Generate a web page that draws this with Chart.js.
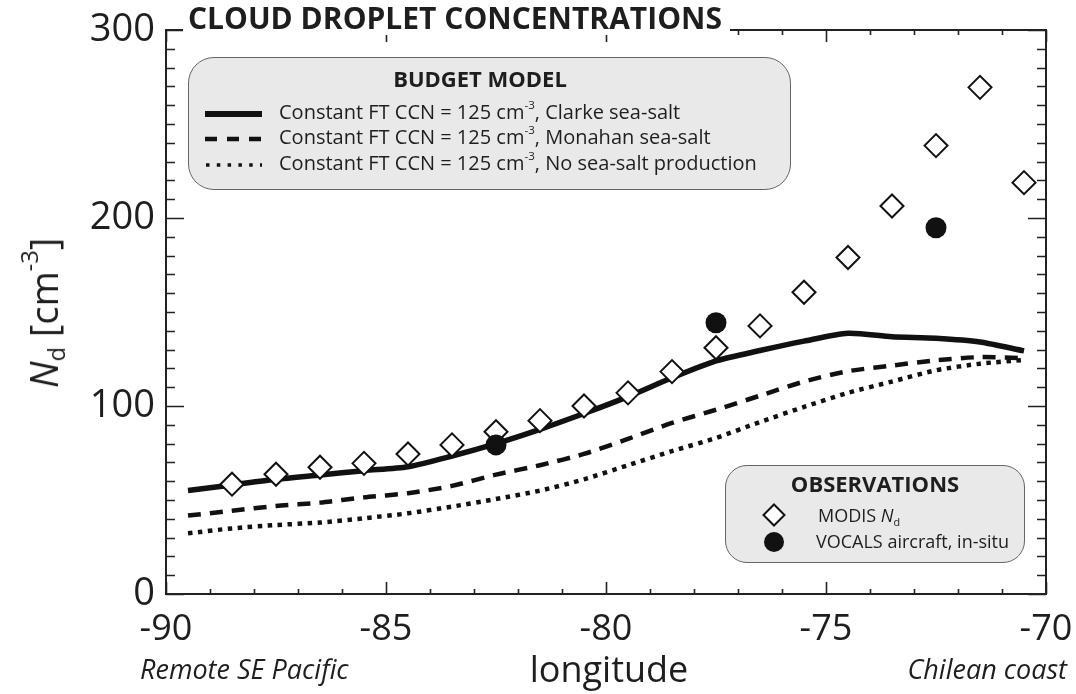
<!DOCTYPE html>
<html>
<head>
<meta charset="utf-8">
<script src="https://cdn.jsdelivr.net/npm/chart.js@4.4.1/dist/chart.umd.min.js"></script>
<style>
	body { margin: 0; background: #fff; font-family: "Open Sans", sans-serif; color: #1e1e1e; }
	#wrap { position: relative; width: 1076px; height: 694px; overflow: hidden; }
	#nd-chart { position: absolute; left: 0; top: 0; }
	.lbl { position: absolute; white-space: nowrap; }
	.box { position: absolute; box-sizing: border-box; background: #e9e9e9; border: 1.5px solid #666; }
	sup, sub { font-size: 0.6em; line-height: 0; vertical-align: baseline; position: relative; }
	.box-sup { font-size: 0.58em; top: -0.85em; }
</style>
</head>
<body>
<div id="wrap">
	<canvas id="nd-chart" width="1076" height="694"></canvas>

	<!-- title sits over the top frame line -->
	<div class="lbl" style="left:183px;top:3px;height:32px;line-height:30px;padding:0 8px 0 5px;background:#fff;font-weight:700;font-size:30px;">CLOUD DROPLET CONCENTRATIONS</div>

	<div class="lbl" style="left:43px;top:313px;font-size:38px;line-height:38px;transform:translate(-50%,-50%) rotate(-90deg);"><i>N</i><sub style="font-size:0.62em;top:0.3em;">d</sub> [cm<sup style="font-size:0.62em;top:-0.85em;">-3</sup>]</div>

	<div class="lbl" style="left:609px;top:651px;font-size:36px;line-height:36px;transform:translateX(-50%);">longitude</div>
	<div class="lbl" style="left:140px;top:655px;font-size:27px;line-height:27px;font-style:italic;">Remote SE Pacific</div>
	<div class="lbl" style="right:9px;top:655px;font-size:27px;line-height:27px;font-style:italic;">Chilean coast</div>

	<!-- budget model legend -->
	<div class="box" style="left:188px;top:57px;width:603px;height:133px;border-radius:26px;"></div>
	<div class="lbl" style="left:480px;top:67px;font-weight:700;font-size:22px;line-height:22px;transform:translateX(-50%);">BUDGET MODEL</div>
	<svg class="lbl" style="left:205px;top:108px" width="57" height="12"><line x1="0" y1="6" x2="57" y2="6" stroke="#111" stroke-width="6"/></svg>
	<svg class="lbl" style="left:205px;top:133px" width="57" height="12"><line x1="0" y1="6" x2="57" y2="6" stroke="#111" stroke-width="4.5" stroke-dasharray="12 10"/></svg>
	<svg class="lbl" style="left:205px;top:159px" width="57" height="12"><line x1="1" y1="6" x2="57" y2="6" stroke="#111" stroke-width="3.5" stroke-dasharray="3.5 7.3"/></svg>
	<div class="lbl" style="left:279px;top:102px;font-size:20px;line-height:20px;">Constant FT CCN = 125 cm<sup class="box-sup">-3</sup>, Clarke sea-salt</div>
	<div class="lbl" style="left:279px;top:127px;font-size:20px;line-height:20px;">Constant FT CCN = 125 cm<sup class="box-sup">-3</sup>, Monahan sea-salt</div>
	<div class="lbl" style="left:279px;top:153px;font-size:20px;line-height:20px;">Constant FT CCN = 125 cm<sup class="box-sup">-3</sup>, No sea-salt production</div>

	<!-- observations legend -->
	<div class="box" style="left:725px;top:465px;width:300px;height:98px;border-radius:22px;"></div>
	<div class="lbl" style="left:875px;top:472px;font-weight:700;font-size:22px;line-height:22px;transform:translateX(-50%);">OBSERVATIONS</div>
	<svg class="lbl" style="left:762px;top:503px" width="24" height="24"><polygon points="12,1.5 22.5,12 12,22.5 1.5,12" fill="#fff" stroke="#111" stroke-width="2"/></svg>
	<svg class="lbl" style="left:763px;top:531px" width="22" height="22"><circle cx="11" cy="11" r="10" fill="#111"/></svg>
	<div class="lbl" style="left:818px;top:506px;font-size:18px;line-height:18px;">MODIS <i>N</i><sub style="top:0.4em;">d</sub></div>
	<div class="lbl" style="left:816px;top:532px;font-size:18px;line-height:18px;">VOCALS aircraft, in-situ</div>
</div>

<script>
	// model longitudes (half degree grid)
	var modelLon = [-89.5, -88.5, -87.5, -86.5, -85.5, -84.5, -83.5, -82.5, -81.5, -80.5,
		-79.5, -78.5, -77.5, -76.5, -75.5, -74.5, -73.5, -72.5, -71.5, -70.5];

	// budget model Nd, cm-3
	var clarkeNd = [55, 58, 61, 63.3, 65.6, 67.7, 73.4, 80, 87.6, 96,
		105, 115, 124, 129.5, 134.5, 138.7, 136.8, 136, 134, 129.3];
	var monahanNd = [41.7, 44.3, 46.8, 48.6, 51.4, 53.6, 57.5, 63.5, 68.5, 74.5,
		82.5, 91, 98, 105.5, 113, 118.5, 121.5, 124.3, 126, 125.5];
	var noSaltNd = [32.3, 34.9, 36.7, 38, 40.3, 42.9, 46.5, 50.5, 55, 61,
		68.5, 76, 83, 91.5, 99.5, 107, 113, 119, 122.5, 124.5];

	// observations
	var modisLon = [-88.5, -87.5, -86.5, -85.5, -84.5, -83.5, -82.5, -81.5, -80.5, -79.5,
		-78.5, -77.5, -76.5, -75.5, -74.5, -73.5, -72.5, -71.5, -70.5];
	var modisNd = [58.4, 63.7, 67.4, 69.5, 74.5, 79.3, 86.3, 92.2, 100, 107,
		118.3, 131, 142.6, 160.5, 179, 206.4, 238.5, 269.5, 218.8];
	var vocalsLon = [-82.5, -77.5, -72.5];
	var vocalsNd = [79.3, 144.3, 194.8];

	// axis ticks
	var xTicks = [-90, -85, -80, -75, -70];
	var yTicks = [0, 100, 200, 300];

	var toPoints = function(xs, ys) {
		var pts = [];
		for (var i=0; i<xs.length; i++) {
			pts.push({x: xs[i], y: ys[i]});
		}
		return pts;
	};

	var ink = '#111';

	// Frame with inward ticks on all four sides (minor every 1 deg / 10 cm-3)
	var frameTicks = {
		id: 'frameTicks',
		beforeDatasetsDraw: function(chart) {
			var ctx = chart.ctx;
			var a = chart.chartArea;
			var xs = chart.scales.x, ys = chart.scales.y;
			ctx.save();
			ctx.strokeStyle = '#222';
			ctx.lineWidth = 2;
			ctx.strokeRect(a.left, a.top, a.right - a.left, a.bottom - a.top);
			ctx.lineWidth = 1.6;
			ctx.beginPath();
			for (var v=ys.min; v<=ys.max; v+=10) {
				var py = Math.round(ys.getPixelForValue(v)) + 0.5;
				var len = (v % 100 == 0) ? 18 : 9;
				ctx.moveTo(a.left, py); ctx.lineTo(a.left + len, py);
				ctx.moveTo(a.right, py); ctx.lineTo(a.right - len, py);
			}
			for (var lon=xs.min; lon<=xs.max; lon+=1) {
				var px = Math.round(xs.getPixelForValue(lon)) + 0.5;
				var l2 = (lon % 5 == 0) ? 12 : 5;
				ctx.moveTo(px, a.bottom); ctx.lineTo(px, a.bottom - l2);
				ctx.moveTo(px, a.top); ctx.lineTo(px, a.top + l2);
			}
			ctx.stroke();
			ctx.restore();
		}
	};

	var ctx = document.getElementById('nd-chart').getContext('2d');
	var chart = new Chart(ctx, {
		type: 'line',
		data: {
			datasets: [
				{
					label: 'VOCALS aircraft, in-situ',
					type: 'scatter',
					data: toPoints(vocalsLon, vocalsNd),
					pointStyle: 'circle',
					pointRadius: 10.5,
					backgroundColor: ink,
					borderColor: ink,
					borderWidth: 0
				},
				{
					label: 'MODIS Nd',
					type: 'scatter',
					data: toPoints(modisLon, modisNd),
					pointStyle: 'rectRot',
					pointRadius: 11.5,
					backgroundColor: '#fff',
					borderColor: ink,
					borderWidth: 2
				},
				{
					label: 'Clarke sea-salt',
					data: toPoints(modelLon, clarkeNd),
					borderColor: ink,
					borderWidth: 5.5,
					pointRadius: 0,
					tension: 0.25
				},
				{
					label: 'Monahan sea-salt',
					data: toPoints(modelLon, monahanNd),
					borderColor: ink,
					borderWidth: 4.5,
					borderDash: [13, 9],
					pointRadius: 0,
					tension: 0.25
				},
				{
					label: 'No sea-salt production',
					data: toPoints(modelLon, noSaltNd),
					borderColor: ink,
					borderWidth: 4.5,
					borderDash: [4.5, 5.5],
					pointRadius: 0,
					tension: 0.25
				}
			]
		},
		options: {
			responsive: false,
			animation: false,
			layout: { padding: { top: 30, right: 30, left: 0, bottom: 0 } },
			plugins: {
				legend: { display: false },
				tooltip: { enabled: false }
			},
			scales: {
				x: {
					type: 'linear',
					min: -90,
					max: -70,
					grid: { display: false, drawTicks: false },
					border: { display: false },
					afterBuildTicks: function(s) { s.ticks = xTicks.map(function(v) { return {value: v}; }); },
					afterFit: function(s) { s.height = 100; s.paddingLeft = 0; s.paddingRight = 0; },
					ticks: { color: '#1e1e1e', padding: 14, font: { family: 'Open Sans', size: 36 } }
				},
				y: {
					type: 'linear',
					min: 0,
					max: 300,
					grid: { display: false, drawTicks: false },
					border: { display: false },
					afterBuildTicks: function(s) { s.ticks = yTicks.map(function(v) { return {value: v}; }); },
					afterFit: function(s) { s.width = 166; s.paddingTop = 0; s.paddingBottom = 0; },
					ticks: { color: '#1e1e1e', padding: 11, font: { family: 'Open Sans', size: 38 } }
				}
			}
		},
		plugins: [frameTicks]
	});
</script>
</body>
</html>
